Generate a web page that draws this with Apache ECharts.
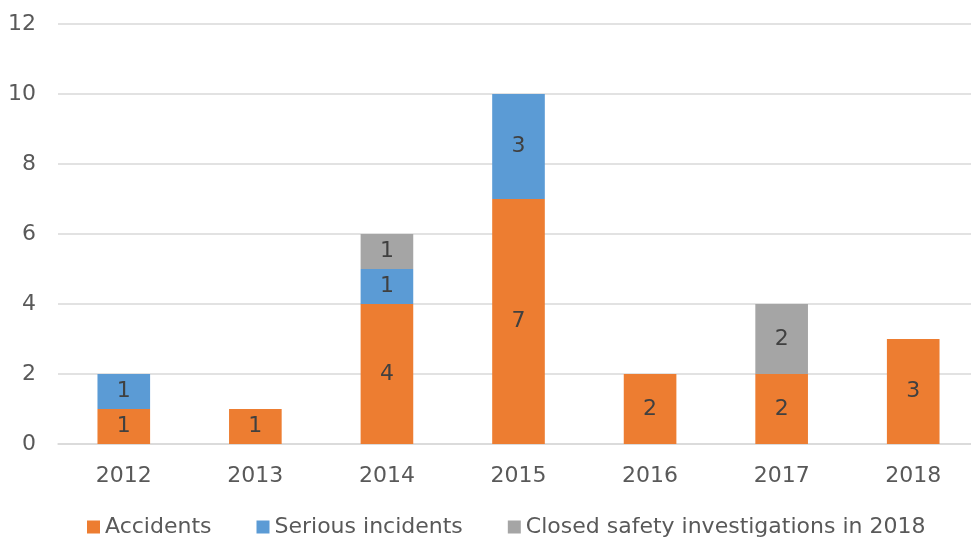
<!DOCTYPE html>
<html>
<head>
<meta charset="utf-8">
<script src="https://cdn.jsdelivr.net/npm/echarts@6/dist/echarts.min.js"></script>
<style>
  html, body { margin: 0; padding: 0; background: #fff; overflow: hidden; }
  #graphics { width: 980px; height: 540px; }
</style>
</head>
<body>
<div id="graphics"></div>
<script>
// chart data
const years = ["2012", "2013", "2014", "2015", "2016", "2017", "2018"];
const accidents = [1, 1, 4, 7, 2, 2, 3];
const seriousIncidents = [1, null, 1, 3, null, null, null];
const closedInvestigations = [null, null, 1, null, null, 2, null];
const yTicks = { min: 0, max: 12, interval: 2 };

const fontName = "DejaVu Sans";

function stackSeries(name, data, color) {
    return {
        name: name,
        type: 'bar',
        stack: 'total',
        barWidth: '40%',
        data: data,
        itemStyle: { color: color },
        label: {
            show: true,
            position: 'inside',
            color: '#404040',
            fontFamily: fontName,
            fontSize: 22
        }
    };
}

// the plot runs a little past the right edge of the 971px window
var myChart = echarts.init(document.getElementById('graphics'));

var option = {
    animation: false,
    textStyle: { fontFamily: fontName },
    grid: { left: 58, top: 24, width: 921, height: 420 },
    legend: {
        top: 511,
        left: 82,
        itemWidth: 13,
        itemHeight: 13,
        itemGap: 45,
        icon: 'rect',
        textStyle: { color: '#595959', fontSize: 22, fontFamily: fontName },
        data: ['Accidents', 'Serious incidents', 'Closed safety investigations in 2018']
    },
    xAxis: {
        type: 'category',
        data: years,
        axisLine: { show: true, lineStyle: { color: '#d9d9d9', width: 1.5 } },
        axisTick: { show: false },
        axisLabel: { color: '#595959', fontSize: 22, margin: 21 }
    },
    yAxis: {
        type: 'value',
        min: yTicks.min,
        max: yTicks.max,
        interval: yTicks.interval,
        axisLine: { show: false },
        axisTick: { show: false },
        axisLabel: { color: '#595959', fontSize: 22, margin: 22 },
        splitLine: { lineStyle: { color: '#d9d9d9', width: 1.5 } }
    },
    series: [
        stackSeries('Accidents', accidents, '#ED7D31'),
        stackSeries('Serious incidents', seriousIncidents, '#5B9BD5'),
        stackSeries('Closed safety investigations in 2018', closedInvestigations, '#A5A5A5')
    ]
};

myChart.setOption(option);
</script>
</body>
</html>
